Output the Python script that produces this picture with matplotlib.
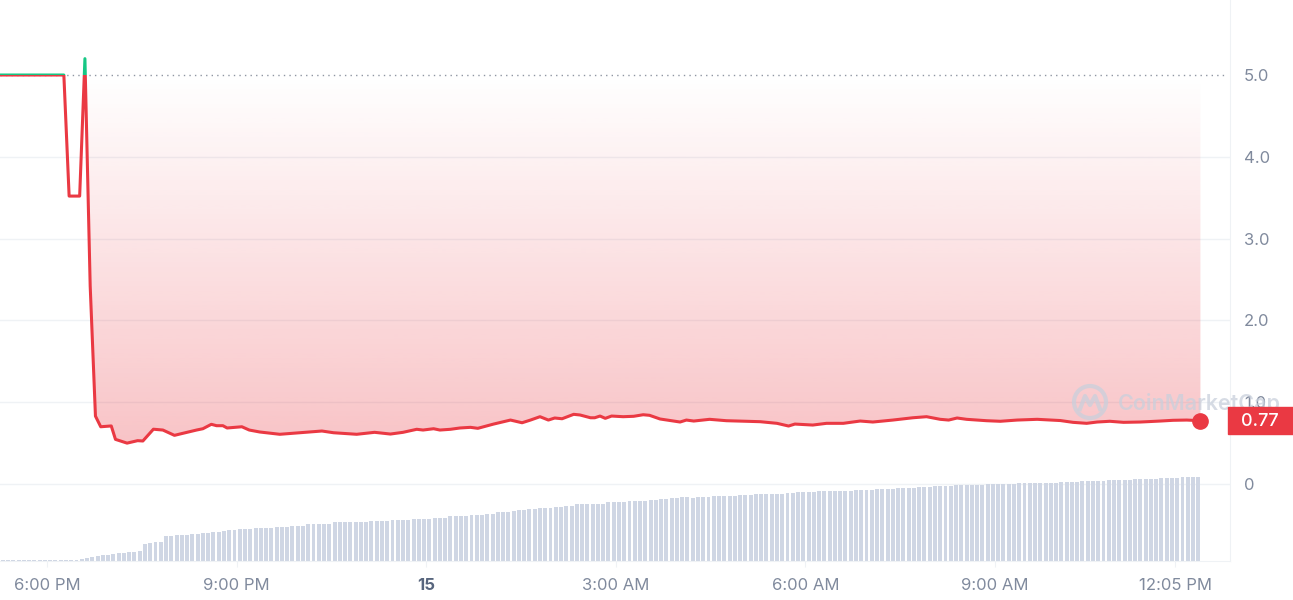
import matplotlib
matplotlib.use("Agg")
import matplotlib.pyplot as plt
import numpy as np
from matplotlib.patches import Rectangle, Ellipse
from matplotlib.lines import Line2D
from matplotlib.colors import to_rgb

plt.rcParams['font.family'] = ['Inter', 'DejaVu Sans']

# ---------------- data ----------------
price_times = ["17:15", "18:16", "18:21", "18:31", "18:36", "18:41", "18:46", "18:51",
               "19:01", "19:05", "19:16", "19:26", "19:31", "19:41", "19:50", "20:01",
               "20:09", "20:22", "20:28", "20:36", "20:41", "20:47", "20:51", "21:05",
               "21:12", "21:22", "21:41", "22:00", "22:21", "22:32", "22:54", "23:11",
               "23:26", "23:38", "23:51", "23:57", "00:07", "00:13", "00:23", "00:32",
               "00:42", "00:49", "01:04", "01:20", "01:31", "01:39", "01:48", "01:56",
               "02:02", "02:09", "02:20", "02:26", "02:36", "02:40", "02:45", "02:50",
               "02:56", "03:07", "03:17", "03:26", "03:32", "03:42", "04:01", "04:07",
               "04:14", "04:29", "04:45", "05:04", "05:17", "05:33", "05:44", "05:50",
               "06:07", "06:20", "06:36", "06:45", "06:52", "07:04", "07:23", "07:42",
               "07:55", "08:08", "08:16", "08:24", "08:33", "08:52", "09:05", "09:21",
               "09:40", "10:02", "10:14", "10:27", "10:37", "10:49", "11:02", "11:18",
               "11:37", "11:49", "12:02", "12:15"]
price_values = [5.00, 5.00, 3.52, 3.52, 5.20, 2.42, 0.83, 0.70,
                0.71, 0.546, 0.50, 0.53, 0.526, 0.67, 0.66, 0.595,
                0.62, 0.66, 0.676, 0.73, 0.713, 0.713, 0.685, 0.70,
                0.66, 0.636, 0.608, 0.627, 0.648, 0.627, 0.608, 0.632,
                0.611, 0.632, 0.669, 0.66, 0.676, 0.66, 0.669, 0.685,
                0.693, 0.681, 0.733, 0.782, 0.749, 0.782, 0.823, 0.782,
                0.807, 0.798, 0.852, 0.844, 0.81, 0.81, 0.831, 0.803,
                0.831, 0.823, 0.828, 0.847, 0.84, 0.795, 0.758, 0.782,
                0.77, 0.791, 0.774, 0.767, 0.762, 0.742, 0.709, 0.733,
                0.721, 0.742, 0.742, 0.758, 0.77, 0.758, 0.782, 0.81,
                0.823, 0.791, 0.782, 0.807, 0.791, 0.774, 0.767, 0.782,
                0.791, 0.776, 0.754, 0.742, 0.758, 0.767, 0.754, 0.758,
                0.77, 0.779, 0.782, 0.774]

volume_start = "17:18"
volume_step_minutes = 5
volume_values = [1.5, 1.5, 1.5, 1.5, 1.5, 1.5, 1.5, 1.5, 1.5, 1.5, 1.5, 1.5, 1.5, 1.5, 1.5,
                 2.3, 3, 4.3, 5, 6, 6.3, 7, 8, 8, 9, 9, 10.3, 17, 18, 19,
                 19, 25, 25.5, 26, 26, 26.5, 27, 27.5, 28.3, 28.5, 29.3, 29.5, 30.3, 30.7, 31,
                 31.7, 32, 32.3, 32.7, 33, 33, 33.3, 34, 34, 34.3, 35, 35, 35.3, 37, 37,
                 37, 37, 37.3, 38.7, 38.7, 38.7, 38.7, 39, 39, 39.3, 40, 40, 40, 40.3, 41,
                 41, 41, 41.3, 42, 42, 42, 42.3, 43.3, 43.3, 43.5, 44.7, 44.7, 45, 45.5, 46,
                 46, 46.5, 47, 47.3, 48.7, 48.7, 49.5, 50, 51, 51, 51.7, 52.3, 52.7, 53, 53.3,
                 54, 54, 55, 55, 56.7, 56.7, 56.7, 57.3, 57.3, 57.5, 59, 59, 59, 59.5, 60,
                 60, 60, 60.5, 61, 61, 62, 62.5, 63, 63.5, 64, 64, 63.5, 64, 64, 64,
                 65, 65, 65, 65.3, 65.3, 66, 66, 66.3, 66.7, 66.7, 66.7, 67, 67.3, 67.3, 68,
                 68, 69, 69, 69, 69.5, 69.7, 69.7, 69.7, 70.3, 70.3, 70.3, 70.3, 71, 71, 71,
                 71, 72, 72, 72, 72, 72.7, 72.7, 73, 73.3, 74, 74, 74.3, 75, 75, 75,
                 75.3, 76, 76, 76, 76, 76, 76.3, 76.7, 76.7, 76.7, 77, 77, 77.3, 77.7, 77.7,
                 77.7, 78, 78.3, 78.3, 78.3, 78.5, 79, 79, 79, 79.3, 79.7, 80, 80, 80, 80.3,
                 80.7, 81, 81, 81, 81.3, 81.7, 82, 82, 82, 82.3, 82.7, 83, 83, 83.5, 83.7,
                 84, 84, 84]

open_price = 5.0
last_price_label = "0.77"
y_ticks = [0, 1, 2, 3, 4, 5]
y_tick_labels = ["0", "1.0", "2.0", "3.0", "4.0", "5.0"]
x_tick_hours = [18, 21, 24, 27, 30, 33, 35.85]
x_tick_labels = ["6:00 PM", "9:00 PM", "15", "3:00 AM", "6:00 AM", "9:00 AM", "12:05 PM"]

# ---------------- style ----------------
RED = "#ea3943"
GREEN = "#16c784"
BAR = "#cfd6e4"
GRID = "#eff2f5"
LABEL = "#808a9d"


def to_hours(s):
    h, m = map(int, s.split(":"))
    v = h + m / 60.0
    return v + 24 if h < 17 else v


t = np.array([to_hours(s) for s in price_times])
p = np.array(price_values)
vt = to_hours(volume_start) + np.arange(len(volume_values)) * volume_step_minutes / 60.0
vv = np.array(volume_values)

W, H = 1293, 600
fig = plt.figure(figsize=(W / 100, H / 100), dpi=100)
ax_pos = [0, (H - 561) / H, 1230 / W, 561 / H]
axv = fig.add_axes(ax_pos)
ax = fig.add_axes(ax_pos, sharex=axv)
ax.patch.set_visible(False)

xlim = (17.2563, 36.718)
ylim = (-0.941, 5.917)

# volume bars
axv.bar(vt, vv, width=0.75 * volume_step_minutes / 60.0, color=BAR, zorder=2)
axv.set_ylim(0, 561)
axv.set_xlim(*xlim)
axv.axis("off")

# grid lines
for yt in y_ticks:
    if yt != open_price:
        axv.axhline((yt - ylim[0]) / (ylim[1] - ylim[0]) * 561, color=GRID, lw=1, zorder=1)

# gradient fill from spike onwards
start = int(np.argmax(p))
tf, pf = t[start:], p[start:]
poly = ax.fill_between(tf, pf, open_price, color="none", lw=0)
n = 256
vals = np.linspace(pf.min(), open_price, n)
alpha = np.clip(0.30 * (open_price - vals) / (open_price - 0.5), 0, 1)
img = np.zeros((n, 1, 4))
img[..., :3] = to_rgb(RED)
img[:, 0, 3] = alpha
im = ax.imshow(img, extent=[tf[0], tf[-1], pf.min(), open_price], origin="lower",
               aspect="auto", zorder=2, interpolation="bilinear")
im.set_clip_path(poly.get_paths()[0], ax.transData)

# baseline dotted
ax.plot([xlim[0], xlim[0] + (1225 / 1230) * (xlim[1] - xlim[0])], [open_price, open_price],
        color="#8f96a3", lw=1, ls=(0, (1, 3)), zorder=3)

# price line: red below open, green above
red_line, = ax.plot(t, p, color=RED, lw=2.2, zorder=4, solid_joinstyle="round")
red_line.set_clip_path(Rectangle((xlim[0] - 5, -10), 60, open_price + 10, transform=ax.transData))
green_line, = ax.plot(t, p, color=GREEN, lw=2.2, zorder=4, solid_joinstyle="round")
green_line.set_clip_path(Rectangle((xlim[0] - 5, open_price), 60, 10, transform=ax.transData))
ax.plot(t[-1], p[-1], "o", ms=11, color=RED, zorder=5, clip_on=False)

ax.set_xlim(*xlim)
ax.set_ylim(*ylim)

# axes styling
for s in ["top", "left"]:
    ax.spines[s].set_visible(False)
ax.spines["right"].set_color(GRID)
ax.spines["bottom"].set_color(GRID)
ax.yaxis.tick_right()
ax.set_yticks(y_ticks)
ax.set_yticklabels(y_tick_labels)
ax.tick_params(axis="y", length=0, pad=10, labelsize=12, labelcolor=LABEL)
ax.set_xticks(x_tick_hours)
ax.set_xticklabels(x_tick_labels)
ax.tick_params(axis="x", length=4, color=GRID, pad=8, labelsize=12, labelcolor=LABEL)
for lbl in ax.get_xticklabels():
    if lbl.get_text() == "15":
        lbl.set_fontweight("bold")
        lbl.set_color("#58667e")

# watermark
wm_color = "#c9d0dc"
fig.text(1118 / W, 1 - 403 / H, "CoinMarketCap", fontsize=15.5, fontweight="semibold",
         color=wm_color, alpha=0.75, ha="left", va="center", zorder=6)
fig.add_artist(Ellipse((1090 / W, 1 - 402 / H), 32 / W, 32 / H, fill=False,
                       ec=wm_color, lw=3, alpha=0.75, transform=fig.transFigure, zorder=6))
fig.add_artist(Line2D(np.array([1080, 1085, 1090, 1095, 1100]) / W,
                      1 - np.array([409, 396, 405, 396, 409]) / H,
                      color=wm_color, lw=3, alpha=0.75, transform=fig.transFigure, zorder=6))

# last price box
fig.add_artist(Rectangle((1228 / W, 1 - 434 / H), 65 / W, 27 / H, color=RED,
                         transform=fig.transFigure, zorder=7))
fig.text(1260 / W, 1 - 421 / H, last_price_label, color="white", fontsize=13,
         fontweight="medium", ha="center", va="center", zorder=8)

fig.savefig("out.png", dpi=100)
